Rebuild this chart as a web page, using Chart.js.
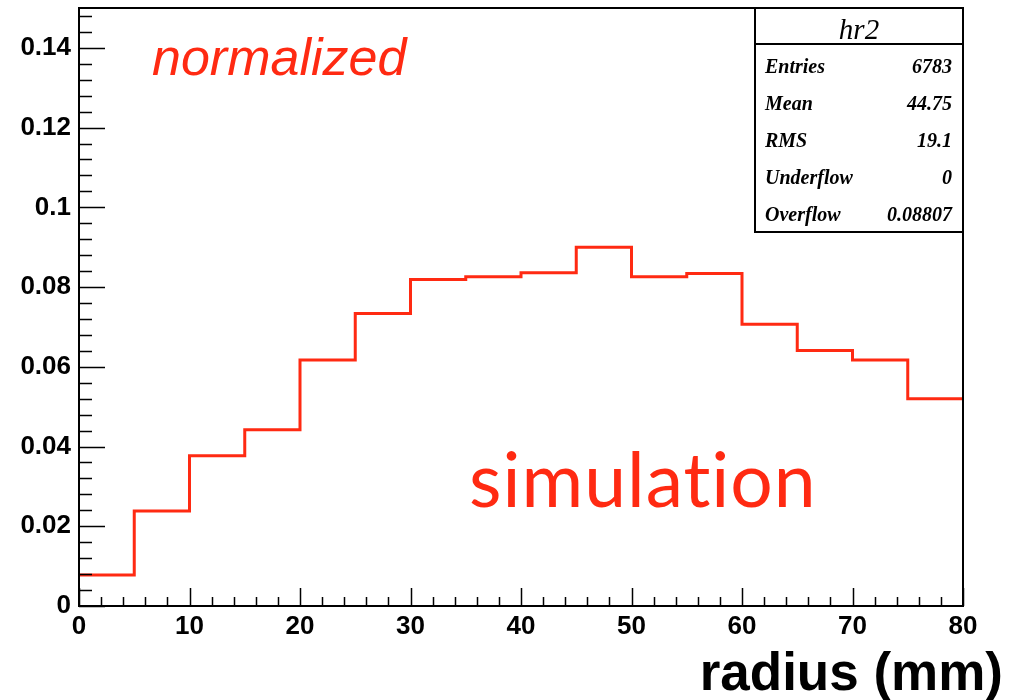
<!DOCTYPE html>
<html>
<head>
<meta charset="utf-8">
<script src="https://cdn.jsdelivr.net/npm/chart.js@4/dist/chart.umd.min.js"></script>
<style>
  html, body { margin: 0; padding: 0; background: #fff; }
  #wrap { width: 1024px; height: 700px; position: relative; }
</style>
</head>
<body>
<div id="wrap"><canvas id="chart"></canvas></div>
<script>
// histogram bins (radius in mm) and normalized contents
const binEdges = [0, 5, 10, 15, 20, 25, 30, 35, 40, 45, 50, 55, 60, 65, 70, 75, 80]
const binValues = [0.0078, 0.0238, 0.0377, 0.0442, 0.0617, 0.0734, 0.0819, 0.0826,
  0.0836, 0.0900, 0.0826, 0.0834, 0.0707, 0.0641, 0.0617, 0.0520]

// stats box
const statsTitle = 'hr2'
const statsNames = ['Entries', 'Mean', 'RMS', 'Underflow', 'Overflow']
const statsValues = ['6783', '44.75', '19.1', '0', '0.08807']

const red = '#ff2a12'

// step points: each bin value starts at its left edge, last one closes at right edge
const points = binValues.map((v, i) => ({ x: binEdges[i], y: v }))
points.push({ x: binEdges[binEdges.length - 1], y: binValues[binValues.length - 1] })

// frame, inward ticks (ROOT style) and the text boxes
const rootStyle = {
  id: 'rootStyle',
  afterDatasetsDraw (chart) {
    const { ctx, chartArea: a, scales: { x, y } } = chart
    ctx.save()
    ctx.strokeStyle = '#000'
    ctx.lineWidth = 2
    ctx.strokeRect(a.left, a.top, a.right - a.left, a.bottom - a.top)

    ctx.lineWidth = 1.5
    ctx.beginPath()
    for (let v = 0; v <= 80; v += 2) {
      const px = Math.round(x.getPixelForValue(v)) + 0.5
      const len = v % 10 === 0 ? 18 : 9
      ctx.moveTo(px, a.bottom)
      ctx.lineTo(px, a.bottom - len)
    }
    for (let k = 0; k <= 37; k++) {
      const v = k * 0.004
      const py = Math.round(y.getPixelForValue(v)) + 0.5
      const len = k % 5 === 0 ? 26 : 13
      ctx.moveTo(a.left, py)
      ctx.lineTo(a.left + len, py)
    }
    ctx.stroke()

    // labels on the pad
    ctx.fillStyle = red
    ctx.textAlign = 'left'
    ctx.textBaseline = 'alphabetic'
    ctx.font = 'italic 52px "Liberation Sans", Arial, sans-serif'
    ctx.fillText('normalized', 152, 75)
    ctx.font = '75px Lato, "Open Sans", sans-serif'
    ctx.letterSpacing = '1px' // also stops the "ti" ligature
    ctx.fillText('simulation', 469, 507)
    ctx.letterSpacing = '0px'

    ctx.fillStyle = '#000'
    ctx.textAlign = 'right'
    ctx.font = 'bold 53px "Liberation Sans", Arial, sans-serif'
    ctx.fillText('radius (mm)', 1003, 690)

    // stats box
    const bx = 755
    const by = a.top
    const bw = a.right - bx
    const bh = 224
    ctx.fillStyle = '#fff'
    ctx.fillRect(bx, by, bw, bh)
    ctx.strokeStyle = '#000'
    ctx.lineWidth = 2
    ctx.strokeRect(bx, by, bw, bh)
    ctx.beginPath()
    ctx.moveTo(bx, by + 36)
    ctx.lineTo(bx + bw, by + 36)
    ctx.stroke()
    ctx.fillStyle = '#000'
    ctx.textAlign = 'center'
    ctx.font = 'italic 29px "Liberation Serif", "Times New Roman", serif'
    ctx.fillText(statsTitle, bx + bw / 2, by + 31)
    ctx.font = 'bold italic 20px "Liberation Serif", "Times New Roman", serif'
    statsNames.forEach((name, i) => {
      const base = by + 65 + i * 37
      ctx.textAlign = 'left'
      ctx.fillText(name, bx + 10, base)
      ctx.textAlign = 'right'
      ctx.fillText(statsValues[i], bx + bw - 11, base)
    })
    ctx.restore()
  }
}

document.addEventListener('DOMContentLoaded', () => {
  const tickFont = { family: '"Liberation Sans", Arial, sans-serif', size: 26, weight: 'bold' }

  new Chart(document.getElementById('chart'), {
    type: 'line',
    data: {
      datasets: [
        {
          data: points,
          stepped: true,
          borderColor: red,
          borderWidth: 3,
          pointRadius: 0,
          fill: false
        }
      ]
    },
    options: {
      responsive: true,
      maintainAspectRatio: false,
      animation: false,
      layout: { padding: { top: 8, right: 61, left: 0, bottom: 0 } },
      plugins: { legend: { display: false }, tooltip: { enabled: false } },
      scales: {
        x: {
          type: 'linear',
          min: 0,
          max: 80,
          afterFit (scale) {
            scale.height = 94
            scale.paddingLeft = 0
            scale.paddingRight = 0
          },
          grid: { display: false, drawTicks: false },
          border: { display: false },
          ticks: {
            stepSize: 10,
            padding: 5,
            maxRotation: 0,
            color: '#000',
            font: tickFont
          }
        },
        y: {
          min: 0,
          max: 0.15,
          afterFit (scale) {
            scale.width = 79
            scale.paddingTop = 0
            scale.paddingBottom = 0
          },
          grid: { display: false, drawTicks: false },
          border: { display: false },
          ticks: {
            stepSize: 0.02,
            includeBounds: false,
            padding: 8,
            color: '#000',
            font: tickFont,
            callback: (v) => String(+Number(v).toFixed(4))
          }
        }
      }
    },
    plugins: [rootStyle]
  })
})
</script>
</body>
</html>
